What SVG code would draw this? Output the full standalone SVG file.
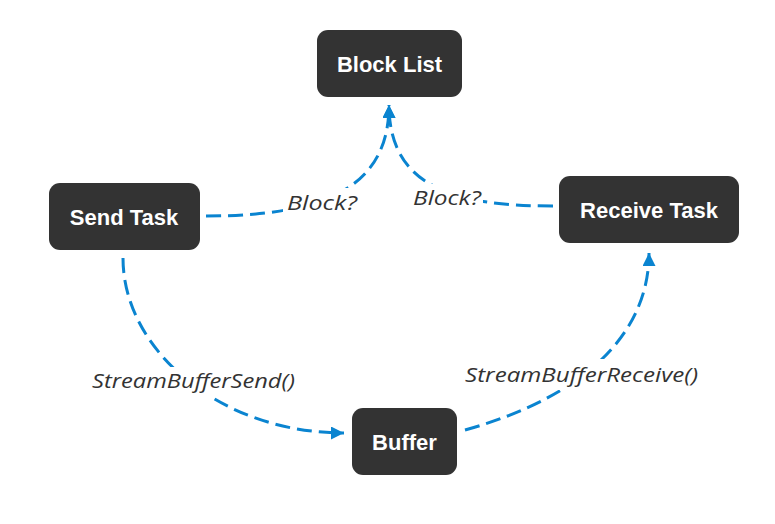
<svg xmlns="http://www.w3.org/2000/svg" width="775" height="524" viewBox="0 0 775 524">
  <style>
    .node rect { fill: #333333; }
    .node text { fill: #ffffff; font-family: "Liberation Sans", Arial, sans-serif; font-weight: bold; font-size: 22px; text-anchor: middle; }
    .edge path { fill: none; stroke: #0a84d0; stroke-width: 3; stroke-dasharray: 15 7; }
    .lbl-bg { fill: #ffffff; }
    .lbl { fill: #333333; font-family: "Open Sans", "Liberation Sans", sans-serif; font-style: italic; font-size: 20px; }
  </style>
  <defs>
    <marker id="arrow" markerUnits="userSpaceOnUse" markerWidth="14" markerHeight="14" refX="13" refY="6.5" orient="auto">
      <path d="M0,0 L13,6.5 L0,13 z" fill="#0a84d0"/>
    </marker>
  </defs>
  <rect width="775" height="524" fill="#ffffff"/>

  <g id="connectors">
    <g class="edge" id="send-block">
      <path d="M206,216 C320,216 389,190 389,105" marker-end="url(#arrow)"/>
      <rect class="lbl-bg" x="283" y="188" width="76" height="26"/>
      <text class="lbl" x="287" y="210" textLength="70" lengthAdjust="spacingAndGlyphs">Block?</text>
    </g>
    <g class="edge" id="receive-block">
      <path d="M553,206 C460,206 389,190 389,105" marker-end="url(#arrow)"/>
      <rect class="lbl-bg" x="409" y="184" width="74" height="26"/>
      <text class="lbl" x="413" y="205" textLength="68" lengthAdjust="spacingAndGlyphs">Block?</text>
    </g>
    <g class="edge" id="send-buffer">
      <path d="M123,258 C123,350 220,433 344,433" marker-end="url(#arrow)"/>
      <rect class="lbl-bg" x="88" y="367" width="212" height="30"/>
      <text class="lbl" x="92" y="388" textLength="203" lengthAdjust="spacingAndGlyphs">StreamBufferSend()</text>
    </g>
    <g class="edge" id="buffer-receive">
      <path d="M465,430 C590,395 649,330 649,253" marker-end="url(#arrow)"/>
      <rect class="lbl-bg" x="461" y="359" width="241" height="31"/>
      <text class="lbl" x="465" y="382" textLength="233" lengthAdjust="spacingAndGlyphs">StreamBufferReceive()</text>
    </g>
  </g>

  <g id="block-list" class="node">
    <rect x="317" y="30" width="145" height="67" rx="11"/>
    <text x="389.5" y="71.5">Block List</text>
  </g>
  <g id="send-task" class="node">
    <rect x="49" y="183" width="151" height="67" rx="11"/>
    <text x="124" y="224.5">Send Task</text>
  </g>
  <g id="receive-task" class="node">
    <rect x="559" y="176" width="180" height="67" rx="11"/>
    <text x="649" y="217.5">Receive Task</text>
  </g>
  <g id="buffer" class="node">
    <rect x="352" y="408" width="105" height="67" rx="11"/>
    <text x="404.5" y="449.5">Buffer</text>
  </g>
</svg>
